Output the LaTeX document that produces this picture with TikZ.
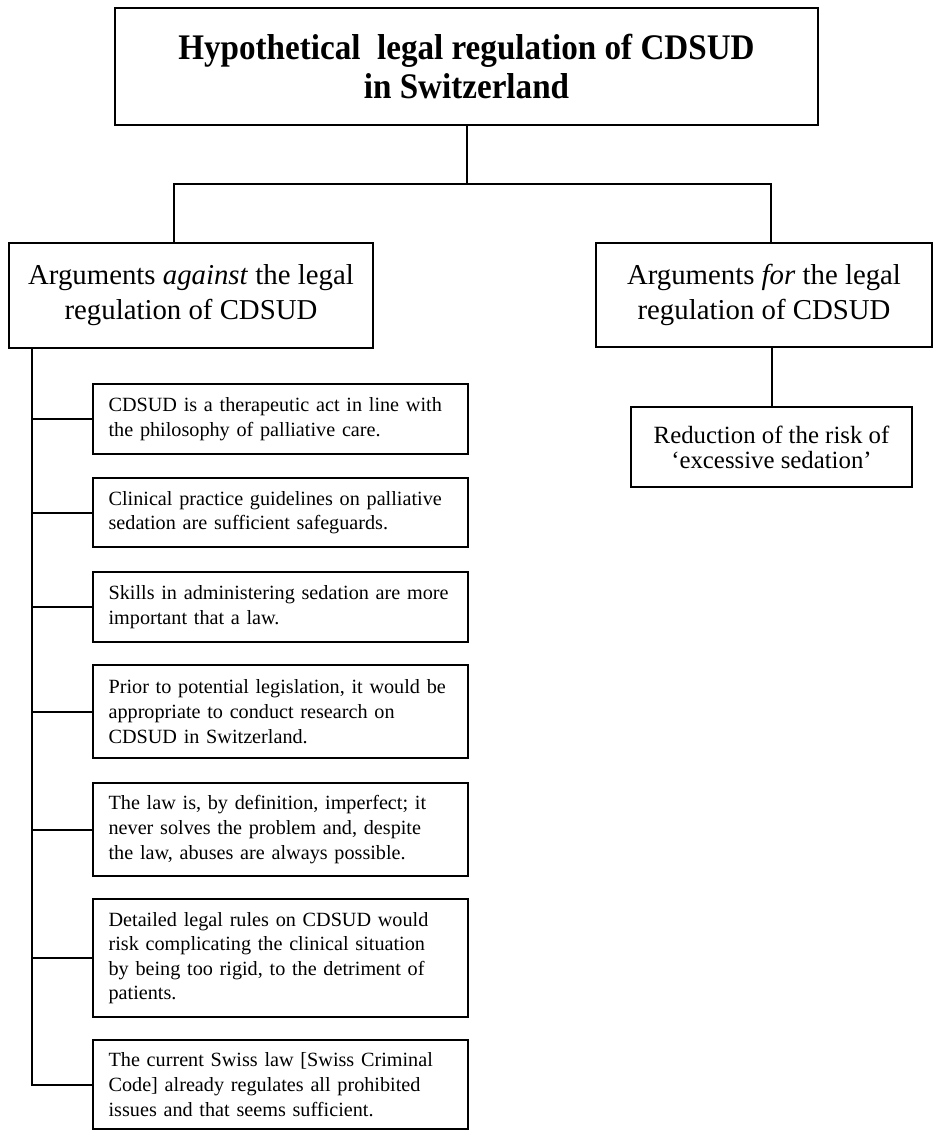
\documentclass[tikz,border=0pt]{standalone}
\usepackage{fontspec}
\setmainfont{Liberation Serif}
\newfontfamily\titlefont[FakeStretch=0.92]{Liberation Serif}
\usetikzlibrary{positioning,calc}

\begin{document}
\begin{tikzpicture}[x=0.5pt,y=-0.5pt,
  box/.style={draw, line width=1.1pt, inner sep=0pt, align=center},
  headbox/.style={box, font=\fontsize{14.4}{17.5}\selectfont},
  argbox/.style={box, anchor=north west, minimum width=187.5pt, text width=172pt, align=left, font=\fontsize{10.1}{12.3}\selectfont},
  link/.style={line width=1pt}]
\useasboundingbox (0,0) rectangle (934,1130);

% top of the tree
\node[box, minimum width=351.5pt, minimum height=58.5pt, font=\titlefont\bfseries\fontsize{18}{19.5}\selectfont] (title) at (466.5,66.5)
  {Hypothetical\ \ legal regulation of CDSUD\\in Switzerland};
\node[headbox, minimum width=182pt, minimum height=52.5pt] (against) at (191,295.5)
  {Arguments \textit{against} the legal\\regulation of CDSUD};
\node[headbox, minimum width=168pt, minimum height=52pt] (for) at (764,295)
  {Arguments \textit{for} the legal\\regulation of CDSUD};
\node[box, minimum width=140.5pt, minimum height=40pt, font=\fontsize{12.4}{12.5}\selectfont] (reduce) at (771.5,447)
  {Reduction of the risk of\\`excessive sedation'};

\draw[link] (title.south) -- ++(0,58) coordinate (split);
\draw[link] ([xshift=-8.5pt]against.north) |- (split) -| ([xshift=3.5pt]for.north);
\draw[link] (reduce.north) -- (reduce.north |- for.south);

% arguments against
\foreach \i/\top/\bot/\txt in {
  1/383/453/{CDSUD is a therapeutic act in line with\\the philosophy of palliative care.},
  2/477/546/{Clinical practice guidelines on palliative\\sedation are sufficient safeguards.},
  3/571/641/{Skills in administering sedation are more\\important that a law.},
  4/664/757/{Prior to potential legislation, it would be\\appropriate to conduct research on\\CDSUD in Switzerland.},
  5/782/875/{The law is, by definition, imperfect; it\\never solves the problem and, despite\\the law, abuses are always possible.},
  6/898/1016/{Detailed legal rules on CDSUD would\\risk complicating the clinical situation\\by being too rigid, to the detriment of\\patients.},
  7/1039/1128/{The current Swiss law [Swiss Criminal\\Code] already regulates all prohibited\\issues and that seems sufficient.}
} {
  \node[argbox, minimum height={(\bot-\top)*0.5pt}] (arg\i) at (92,\top) {\txt};
}

\coordinate (spine) at ([xshift=12pt]against.south west);
\draw[link] (spine) |- (arg7.west);
\foreach \i in {1,...,6} {
  \draw[link] (arg\i.west) -- (arg\i.west -| spine);
}
\end{tikzpicture}
\end{document}
